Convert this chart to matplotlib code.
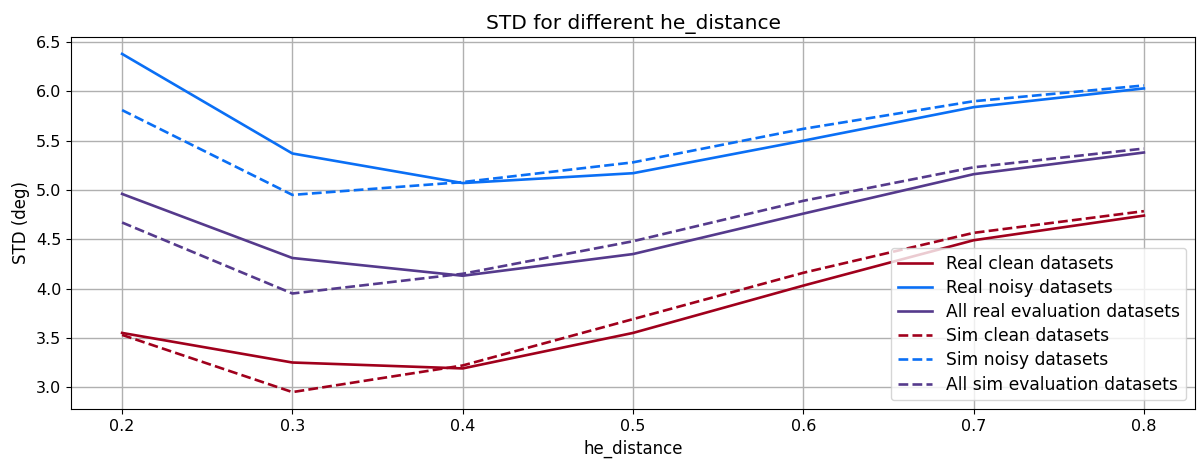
import matplotlib
matplotlib.use("Agg")
import matplotlib.pyplot as plt

# he_distance sweep and STD (deg) per dataset group
he_distance = [0.2, 0.3, 0.4, 0.5, 0.6, 0.7, 0.8]

real_clean = [3.55, 3.25, 3.19, 3.55, 4.03, 4.49, 4.74]
real_noisy = [6.38, 5.37, 5.07, 5.17, 5.50, 5.84, 6.03]
real_all = [4.96, 4.31, 4.13, 4.35, 4.76, 5.16, 5.38]
sim_clean = [3.53, 2.95, 3.22, 3.69, 4.16, 4.565, 4.785]
sim_noisy = [5.81, 4.95, 5.08, 5.28, 5.62, 5.90, 6.06]
sim_all = [4.67, 3.95, 4.15, 4.48, 4.89, 5.23, 5.42]

c_clean = "#a0001c"
c_noisy = "#0a6ff5"
c_all = "#553a8c"

fig = plt.figure(figsize=(11.98, 4.66), dpi=100)
ax = fig.add_axes([71/1198, 1 - 409/466, (1195 - 71)/1198, (409 - 37)/466])

ax.plot(he_distance, real_clean, color=c_clean, lw=1.9, label="Real clean datasets")
ax.plot(he_distance, real_noisy, color=c_noisy, lw=1.9, label="Real noisy datasets")
ax.plot(he_distance, real_all, color=c_all, lw=1.9, label="All real evaluation datasets")
ax.plot(he_distance, sim_clean, color=c_clean, lw=1.9, ls="--", label="Sim clean datasets")
ax.plot(he_distance, sim_noisy, color=c_noisy, lw=1.9, ls="--", label="Sim noisy datasets")
ax.plot(he_distance, sim_all, color=c_all, lw=1.9, ls="--", label="All sim evaluation datasets")

ax.grid(True, color="#b0b0b0", lw=1.0)
ax.set_xlabel("he_distance", fontsize=12)
ax.set_ylabel("STD (deg)", fontsize=12)
ax.set_title("STD for different he_distance", fontsize=14.5)
ax.tick_params(labelsize=11.5)
ax.legend(loc="lower right", fontsize=12.3, labelspacing=0.36)

fig.savefig("out.png", dpi=100)
